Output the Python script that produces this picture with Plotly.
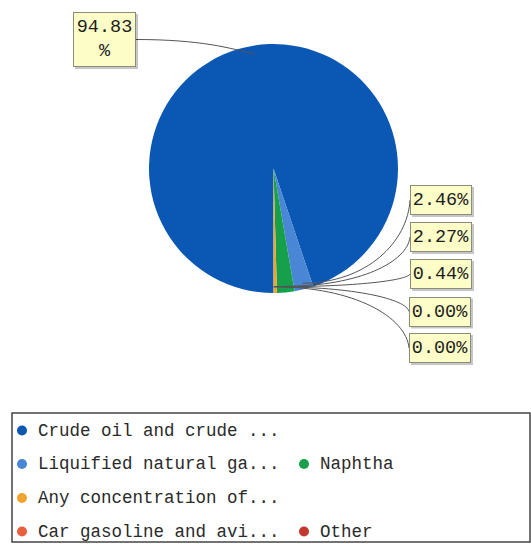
import math
import plotly.graph_objects as go

# ---------------- data ----------------
labels = ["Crude oil and crude ...", "Liquified natural ga...", "Naphtha",
          "Any concentration of...", "Car gasoline and avi...", "Other"]
values = [94.83, 2.46, 2.27, 0.44, 0.00, 0.00]
colors = ["#0b58b4", "#4a86d6", "#16a04b", "#f0a32e", "#e8603c", "#c4372f"]
legend_rows = [0, 1, 1, 2, 3, 3]
legend_cols = [0, 0, 1, 0, 0, 1]

# ---------------- layout helpers ----------------
W, H = 531, 544
CX, CY, R = 273.5, 168.5, 124.5
FONT = "Liberation Mono"


def px(x):
    return x / W


def py(y):
    return 1 - y / H


fig = go.Figure()
fig.add_trace(go.Pie(
    labels=labels, values=values, sort=False, direction="clockwise",
    rotation=180, textinfo="none", showlegend=False, hoverinfo="label+percent",
    marker=dict(colors=colors, line=dict(width=0)),
    domain=dict(x=[px(CX - R), px(CX + R)], y=[py(CY + R), py(CY - R)]),
))

shapes = []
annotations = []

# ---------------- legend (drawn as a framed key) ----------------
shapes.append(dict(type="rect", xref="paper", yref="paper",
                   x0=px(12), x1=px(530), y0=py(542), y1=py(413),
                   line=dict(color="#444444", width=1.5)))
ROW_Y = [430.5, 464, 498, 531.5]
COL_X = [22, 304]
for lab, col, r, c in zip(labels, colors, legend_rows, legend_cols):
    dx_, dy_ = COL_X[c], ROW_Y[r]
    shapes.append(dict(type="circle", xref="paper", yref="paper",
                       x0=px(dx_ - 5), x1=px(dx_ + 5), y0=py(dy_ + 5), y1=py(dy_ - 5),
                       fillcolor=col, line=dict(width=0)))
    annotations.append(dict(
        xref="paper", yref="paper", x=px(dx_ + 14), y=py(dy_),
        xanchor="left", yanchor="middle", showarrow=False, text=lab,
        font=dict(family=FONT, size=17.5, color="#2a2a2a"),
    ))

# ---------------- label boxes ----------------
box_centers = [(104.5, 39.5), (441, 200), (441, 237), (441, 274),
               (440, 311.5), (440, 348)]
box_sizes = [(57, 49), (56, 24), (56, 24), (56, 24), (56, 24), (56, 24)]

total = sum(values)
cum = 0.0
for i, v in enumerate(values):
    a0 = 180 + cum / total * 360
    cum += v
    a1 = 180 + cum / total * 360
    mid = math.radians((a0 + a1) / 2)
    rr = R * (0.93 if i == 0 else 0.95)
    ax = CX + rr * math.sin(mid)
    ay = CY - rr * math.cos(mid)
    bx_c, by_c = box_centers[i]
    bw, bh = box_sizes[i]
    full_w, full_h = bw + 6, bh + 6
    txt = f"{v:.2f}%"
    if i == 0:
        txt = f"{v:.2f}<br>%"
        bx, by = bx_c + full_w / 2, by_c
        dx = ax - bx
        path = (f"M {px(bx)},{py(by)} C {px(bx + 0.55 * dx)},{py(by)} "
                f"{px(ax - 0.2 * dx)},{py(ay - 0.4 * (ay - by))} {px(ax)},{py(ay)}")
    else:
        bx, by = bx_c - full_w / 2, by_c
        dx = bx - ax
        path = (f"M {px(ax)},{py(ay)} C {px(ax + 0.6 * dx)},{py(ay)} "
                f"{px(bx - 0.02 * dx)},{py((ay + by) / 2)} {px(bx)},{py(by)}")
    shapes.append(dict(type="path", xref="paper", yref="paper", path=path,
                       line=dict(color="#555555", width=1)))
    # shadow
    shapes.append(dict(type="rect", xref="paper", yref="paper",
                       x0=px(bx_c - full_w / 2 + 2), x1=px(bx_c + full_w / 2 + 2),
                       y0=py(by_c + full_h / 2 + 2), y1=py(by_c - full_h / 2 + 2),
                       line=dict(width=0), fillcolor="rgba(0,0,0,0.22)"))
    annotations.append(dict(
        xref="paper", yref="paper", x=px(bx_c), y=py(by_c),
        xanchor="center", yanchor="middle", showarrow=False, text=txt,
        width=bw, height=bh, align="center", valign="middle",
        bgcolor="#fdfdc8", bordercolor="#8c8c7c", borderwidth=1, borderpad=2,
        font=dict(family=FONT, size=18.5, color="#1e1e1e"),
    ))

fig.update_layout(
    width=W, height=H, margin=dict(l=0, r=0, t=0, b=0),
    paper_bgcolor="white", plot_bgcolor="white", showlegend=False,
    shapes=shapes, annotations=annotations,
)

fig.write_html("out.html")
